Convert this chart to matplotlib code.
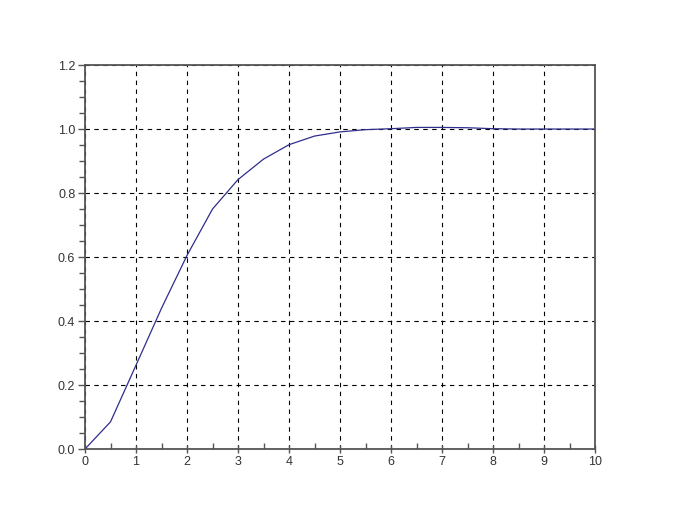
import numpy as np
import matplotlib.pyplot as plt
from matplotlib.ticker import MultipleLocator

plt.rcParams['font.family'] = 'Liberation Sans'
plt.rcParams['font.size'] = 9

t = [0, 0.5, 1.0, 1.5, 2.0, 2.5, 3.0, 3.5, 4.0, 4.5, 5.0, 5.5, 6.0, 6.5, 7.0,
     7.5, 8.0, 8.5, 9.0, 9.5, 10.0]
y = [0.0, 0.085, 0.262, 0.44, 0.605, 0.75, 0.842, 0.906, 0.951, 0.978, 0.991,
     0.998, 1.001, 1.005, 1.005, 1.004, 1.001, 1.0, 1.0, 1.0, 1.0]

fig = plt.figure(figsize=(6.79, 5.12), dpi=100)
ax = fig.add_axes([0.1252, 0.123, 0.7511, 0.75])

ax.plot(t, y, color='#2e2e8c', linewidth=0.9)

ax.set_xlim(0, 10)
ax.set_ylim(0, 1.2)
ax.xaxis.set_major_locator(MultipleLocator(1))
ax.xaxis.set_minor_locator(MultipleLocator(0.5))
ax.yaxis.set_major_locator(MultipleLocator(0.2))
ax.yaxis.set_minor_locator(MultipleLocator(0.05))
ax.set_yticks(np.arange(0, 1.21, 0.2))
ax.set_yticklabels([f'{v:.1f}' for v in np.arange(0, 1.21, 0.2)])

ax.grid(True, which='major', color='black', linestyle=(0, (4, 4)), linewidth=0.8)
for s in ax.spines.values():
    s.set_color('#555555')
    s.set_linewidth(1.3)

ax.tick_params(axis='x', which='major', direction='inout', length=6, width=1, color='#555555', pad=2)
ax.tick_params(axis='x', which='minor', direction='in', length=4, width=1, color='#555555')
ax.tick_params(axis='y', which='major', direction='out', length=5, width=1, color='#555555', pad=2)
ax.tick_params(axis='y', which='minor', direction='out', length=4, width=1, color='#555555')
ax.tick_params(labelcolor='#333333')

fig.savefig('out.png', dpi=100)
